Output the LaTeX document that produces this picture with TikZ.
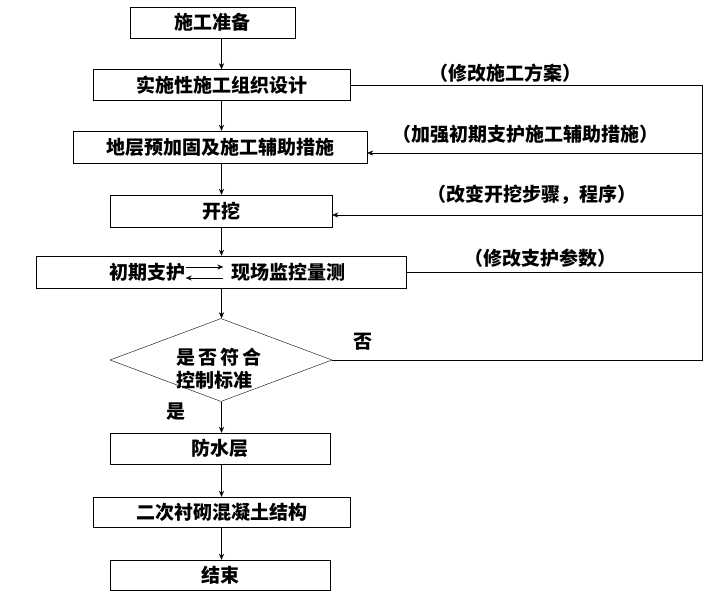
\documentclass[tikz,border=0pt]{standalone}
\usepackage{fontspec}
\setmainfont{Noto Sans CJK SC}
\usetikzlibrary{shapes.geometric,arrows.meta}

\begin{document}
\begin{tikzpicture}[x=1pt,y=-1pt,
		box/.style={draw, inner sep=0pt, minimum height=31, font=\fontsize{19}{23}\selectfont\bfseries},
		lab/.style={inner sep=0pt, font=\fontsize{19}{23}\selectfont\bfseries},
		flow/.style={-{Stealth[length=6pt,width=5pt]}}]
		%%%%% START %%%%%
		\useasboundingbox (0,0) rectangle (723,593);
		
		\node[box, minimum width=165] (prep) at (212.5,22.5) {施工准备};
		\node[box, minimum width=257] (design) at (221.5,85) {实施性施工组织设计};
		\node[box, minimum width=294, minimum height=32] (reinf) at (220,147) {地层预加固及施工辅助措施};
		\node[box, minimum width=222, minimum height=32] (excav) at (221,211) {开挖};
		
		\node[box, minimum width=370, minimum height=32] (monit) at (221,272) {};
		\node[lab] (sup) at (147.5,272) {初期支护};
		\node[lab] (meas) at (288.5,272) {现场监控量测};
		\draw[flow] ([yshift=5]sup.east) -- ([yshift=5,xshift=-8]meas.west);
		\draw[flow] ([yshift=-6,xshift=-8]meas.west) -- ([yshift=-6]sup.east);
		
		\node[draw, diamond, aspect=2.67, minimum width=222, minimum height=83, inner sep=0pt] (judge) at (221,360) {};
		\node[lab, align=left] (jtext) at (219,369) {是\,否\,符\,合\\控制标准};
		
		\node[box, minimum width=220] (water) at (220,448.5) {防水层};
		\node[box, minimum width=257, minimum height=30] (lining) at (221.5,512) {二次衬砌混凝土结构};
		\node[box, minimum width=220, minimum height=30] (finish) at (220,575) {结束};
		
		\node[lab] (yes) at (176,412) {是};
		\node[lab] (no) at (363,342) {否};
		
		\node[lab] (fix1) at (505,73) {（修改施工方案）};
		\node[lab] (fix2) at (525,134) {（加强初期支护施工辅助措施）};
		\node[lab] (fix3) at (532,195) {（改变开挖步骤，程序）};
		\node[lab] (fix4) at (540,258) {（修改支护参数）};
		
		% main line
		\draw[flow] (prep.south -| design.north) -- (design.north);
		\draw[flow] (design.south) -- (design.south |- reinf.north);
		\draw[flow] (reinf.south -| design.south) -- (excav.north -| design.south);
		\draw[flow] (excav.south -| design.south) -- (monit.north -| design.south);
		\draw[flow] (monit.south -| design.south) -- (judge.north -| design.south);
		\draw[flow] (judge.south -| design.south) -- (water.north -| design.south);
		\draw[flow] (water.south -| design.south) -- (lining.north -| design.south);
		\draw[flow] (lining.south -| design.south) -- (finish.north -| design.south);
		
		% feedback line
		\coordinate (rtop) at (702,85);
		\coordinate (rbot) at (702,360);
		\draw (design.east) -- (design.east -| rtop) -- (rbot) -- (judge.east);
		\draw[flow] ([yshift=-6]reinf.east -| rtop) -- ([yshift=-6]reinf.east);
		\draw[flow] ([yshift=-4]excav.east -| rtop) -- ([yshift=-4]excav.east);
		\draw (monit.east) -- (monit.east -| rtop);
		%%%%% END %%%%%
\end{tikzpicture}
\end{document}
